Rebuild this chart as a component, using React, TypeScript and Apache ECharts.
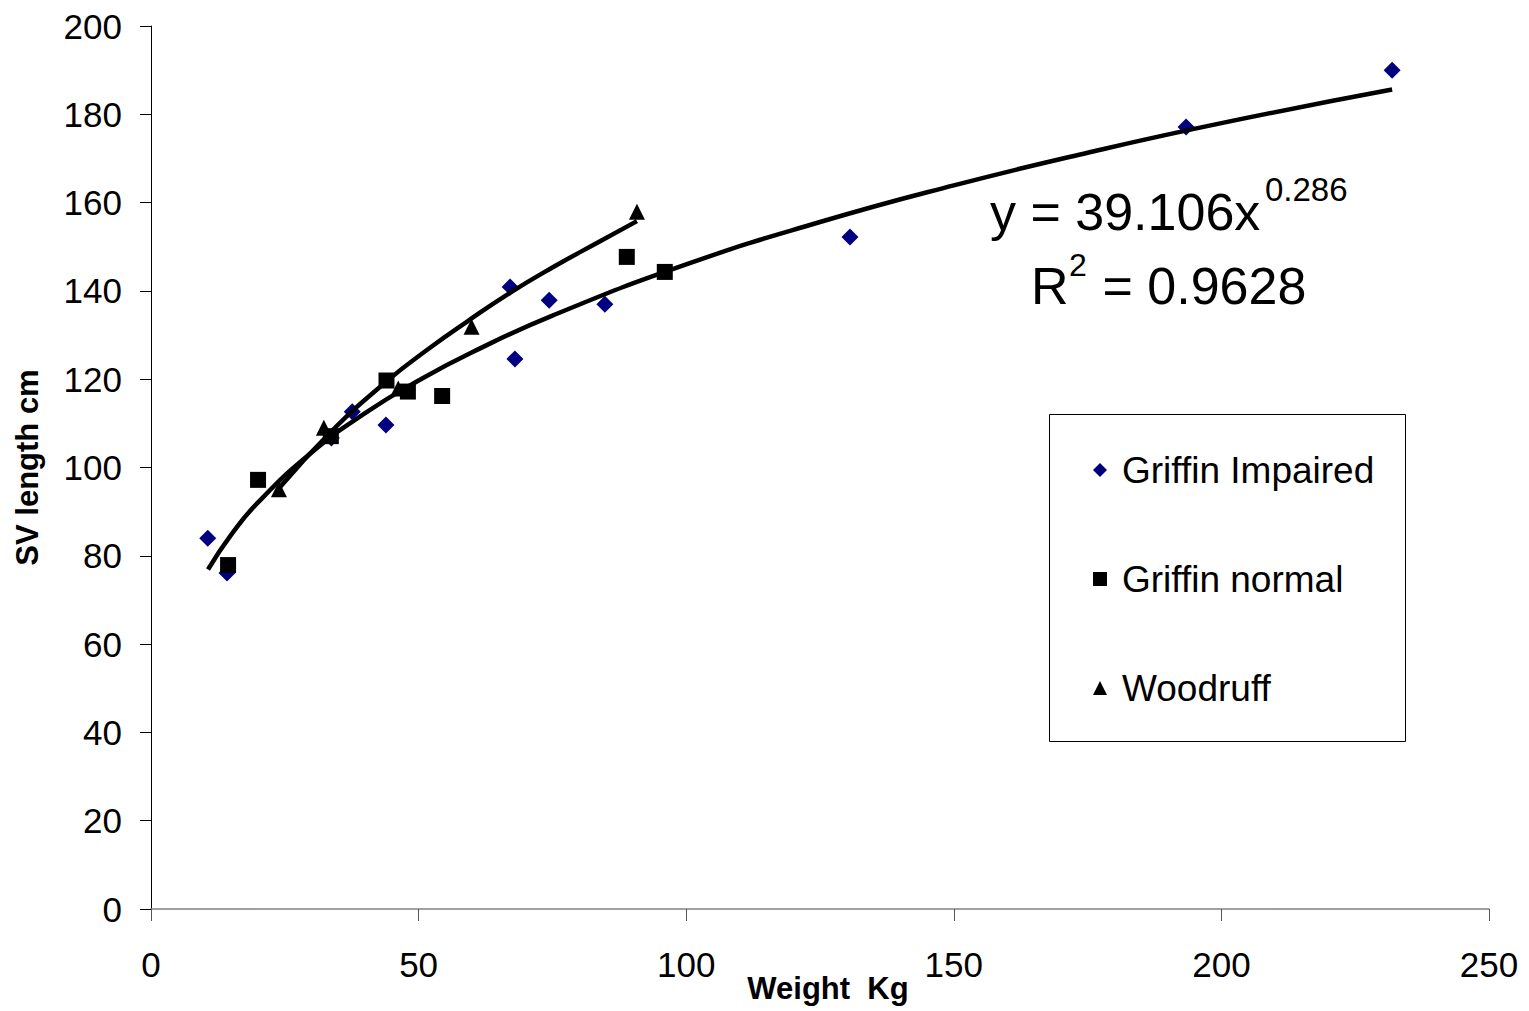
import React, { useEffect, useRef } from "react";
import * as echarts from "echarts";

const FONT = "'Liberation Sans', Arial, sans-serif";

const seriesNames = ["Griffin Impaired", "Griffin normal", "Woodruff"];

const griffinImpaired: [number, number][] = [
  [10.6, 84], [14.2, 76.1], [33.7, 106.7], [37.6, 112.6], [43.9, 109.6],
  [67.1, 140.9], [68, 124.6], [74.4, 137.9], [84.8, 137], [130.6, 152.2],
  [193.4, 177.1], [231.9, 190],
];

const griffinNormal: [number, number][] = [
  [14.4, 77.9], [20, 97.2], [33.6, 107.1], [44, 119.7], [48, 117.2],
  [54.4, 116.2], [88.9, 147.7], [96, 144.3],
];

const woodruff: [number, number][] = [
  [23.9, 95.1], [32.3, 109], [46.2, 117.9], [59.9, 131.9], [90.8, 157.9],
];

// trend lines
const powerTrend: [number, number][] = [
  [10.65, 76.9], [15, 84.8], [20, 92.1], [30, 103.4], [40, 112.3], [50, 119.7],
  [60, 126.1], [75, 134.4], [100, 146], [125, 155.6], [150, 163.9],
  [175, 171.3], [200, 178], [231.9, 185.6],
];

const woodruffTrend: [number, number][] = [
  [24, 95.4], [33.4, 107.8], [44, 119.5], [52, 127], [59, 133], [67, 139.5],
  [75, 145.3], [84, 151.3], [90.8, 155.8],
];

const eqLine1 = "y = 39.106x";
const eqExp1 = "0.286";
const eqLine2a = "R";
const eqExp2 = "2";
const eqLine2b = " = 0.9628";

const xTitle = "Weight  Kg";
const yTitle = "SV length cm";

export default function App() {
  const ref = useRef<HTMLDivElement>(null);
  useEffect(() => {
    document.body.style.margin = "0";
    if (!ref.current) return;
    const chart = echarts.init(ref.current, undefined, { renderer: "svg" });
    const lineTrend = (data: [number, number][]) => ({
      type: "line",
      data,
      smooth: true,
      showSymbol: false,
      symbol: "none",
      silent: true,
      lineStyle: { color: "#000", width: 4.5 },
      z: 3,
    });
    chart.setOption({
      animation: false,
      backgroundColor: "#fff",
      grid: {
        left: 151, right: 40, top: 26, bottom: 102,
        containLabel: false, outerBoundsMode: "none",
      },
      xAxis: {
        type: "value",
        min: 0,
        max: 250,
        interval: 50,
        name: xTitle,
        nameLocation: "middle",
        nameGap: 64,
        nameMoveOverlap: false,
        nameTextStyle: {
          fontFamily: FONT, fontSize: 31, fontWeight: "bold", color: "#000",
          padding: [0, 0, 0, 16],
        },
        axisLine: { show: true, onZero: false, lineStyle: { color: "#808080", width: 1.5 } },
        axisTick: { show: true, length: 12, lineStyle: { color: "#555", width: 1 } },
        axisLabel: { fontFamily: FONT, fontSize: 35, color: "#000", margin: 38 },
        splitLine: { show: false },
      },
      yAxis: {
        type: "value",
        min: 0,
        max: 200,
        interval: 20,
        name: yTitle,
        nameLocation: "middle",
        nameGap: 108,
        nameTextStyle: { fontFamily: FONT, fontSize: 31, fontWeight: "bold", color: "#000" },
        axisLine: { show: true, onZero: false, lineStyle: { color: "#000", width: 1 } },
        axisTick: { show: true, length: 11, lineStyle: { color: "#000", width: 1 } },
        axisLabel: { fontFamily: FONT, fontSize: 35, color: "#000", margin: 29 },
        splitLine: { show: false },
      },
      legend: {
        data: seriesNames,
        orient: "vertical",
        left: 1093,
        top: 450,
        padding: 0,
        itemWidth: 14,
        itemHeight: 14,
        itemGap: 69,
        selectedMode: false,
        textStyle: {
          fontFamily: FONT, fontSize: 37, color: "#000", lineHeight: 40,
          padding: [0, 0, 0, 10],
        },
        z: 10,
      },
      graphic: [
        {
          type: "rect",
          shape: { x: 1049.5, y: 414.5, width: 356, height: 327 },
          style: { fill: "#fff", stroke: "#000", lineWidth: 1 },
          z: 1,
          silent: true,
        },
        {
          type: "text", x: 990, y: 212,
          style: { text: eqLine1, font: `52px ${FONT}`, fill: "#000", align: "left", verticalAlign: "middle" },
          z: 5,
        },
        {
          type: "text", x: 1265, y: 189,
          style: { text: eqExp1, font: `33px ${FONT}`, fill: "#000", align: "left", verticalAlign: "middle" },
          z: 5,
        },
        {
          type: "text", x: 1031, y: 286,
          style: { text: eqLine2a, font: `52px ${FONT}`, fill: "#000", align: "left", verticalAlign: "middle" },
          z: 5,
        },
        {
          type: "text", x: 1069, y: 265,
          style: { text: eqExp2, font: `32px ${FONT}`, fill: "#000", align: "left", verticalAlign: "middle" },
          z: 5,
        },
        {
          type: "text", x: 1088, y: 286,
          style: { text: eqLine2b, font: `52px ${FONT}`, fill: "#000", align: "left", verticalAlign: "middle" },
          z: 5,
        },
      ],
      series: [
        {
          name: seriesNames[0], type: "scatter", symbol: "diamond", symbolSize: 17,
          itemStyle: { color: "#000080", opacity: 1 }, data: griffinImpaired, z: 2,
        },
        {
          name: seriesNames[1], type: "scatter", symbol: "rect", symbolSize: 16,
          itemStyle: { color: "#000", opacity: 1 }, data: griffinNormal, z: 2,
        },
        {
          name: seriesNames[2], type: "scatter", symbol: "triangle", symbolSize: 16,
          itemStyle: { color: "#000", opacity: 1 }, data: woodruff, z: 2,
        },
        lineTrend(powerTrend),
        lineTrend(woodruffTrend),
      ],
    });
    return () => chart.dispose();
  }, []);
  return <div ref={ref} style={{ width: 1529, height: 1011 }} />;
}
